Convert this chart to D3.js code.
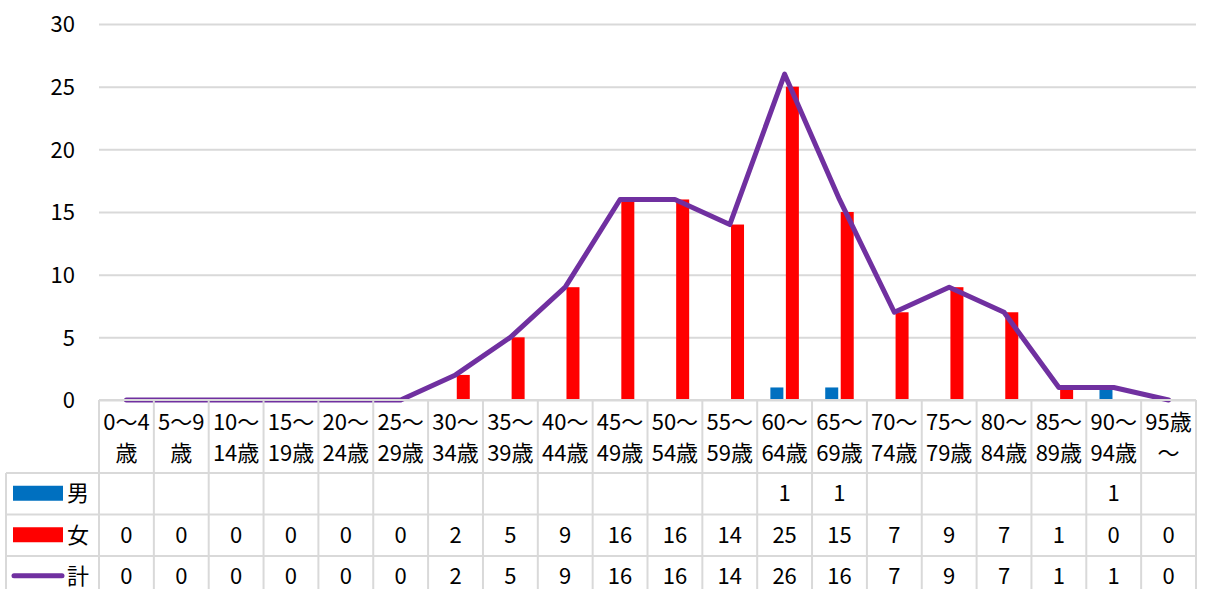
<!DOCTYPE html>
<html>
<head>
<meta charset="utf-8">
<script src="https://cdn.jsdelivr.net/npm/d3@7"></script>
<style>
  body { margin: 0; background: #fff; }
  text { font-family: "Noto Sans CJK JP", "Noto Sans", sans-serif; fill: #000; }
</style>
</head>
<body>
<div class="container"></div>
<script>
// categories (two label lines each)
const categories = ['0〜4歳', '5〜9歳', '10〜14歳', '15〜19歳', '20〜24歳', '25〜29歳', '30〜34歳',
	'35〜39歳', '40〜44歳', '45〜49歳', '50〜54歳', '55〜59歳', '60〜64歳', '65〜69歳',
	'70〜74歳', '75〜79歳', '80〜84歳', '85〜89歳', '90〜94歳', '95歳〜']
const labelLines = [['0〜4', '歳'], ['5〜9', '歳'], ['10〜', '14歳'], ['15〜', '19歳'], ['20〜', '24歳'],
	['25〜', '29歳'], ['30〜', '34歳'], ['35〜', '39歳'], ['40〜', '44歳'], ['45〜', '49歳'],
	['50〜', '54歳'], ['55〜', '59歳'], ['60〜', '64歳'], ['65〜', '69歳'], ['70〜', '74歳'],
	['75〜', '79歳'], ['80〜', '84歳'], ['85〜', '89歳'], ['90〜', '94歳'], ['95歳', '〜']]

const male = [null, null, null, null, null, null, null, null, null, null, null, null, 1, 1, null, null, null, null, 1, null]
const female = [0, 0, 0, 0, 0, 0, 2, 5, 9, 16, 16, 14, 25, 15, 7, 9, 7, 1, 0, 0]
const total = [0, 0, 0, 0, 0, 0, 2, 5, 9, 16, 16, 14, 26, 16, 7, 9, 7, 1, 1, 0]

const yTicks = [0, 5, 10, 15, 20, 25, 30]

const series = [
	{ name: '男', values: male, color: '#0070c0', type: 'bar' },
	{ name: '女', values: female, color: '#ff0000', type: 'bar' },
	{ name: '計', values: total, color: '#7030a0', type: 'line' }
]

const W = 1206, H = 589
const plotLeft = 99, plotRight = 1196, plotTop = 24, zeroY = 400
const tableLeft = 6
const headerBottom = 473
const rowH = 41.5
const gridColor = '#d9d9d9'
const fs = '22px'

let svg = d3.select('.container')
	.append('svg')
	.attr('width', W)
	.attr('height', H)

let x = d3.scaleBand().domain(categories).range([plotLeft, plotRight])
let y = d3.scaleLinear().domain([0, 30]).range([zeroY, plotTop])

// gridlines + y labels
let yAxis = svg.append('g')
	.attr('transform', `translate(${plotLeft},0)`)
	.call(d3.axisLeft(y).tickValues(yTicks).tickSize(-(plotRight - plotLeft)).tickPadding(24))
yAxis.select('.domain').remove()
yAxis.selectAll('.tick line').attr('stroke', gridColor).attr('stroke-width', 2)
yAxis.selectAll('.tick text').style('font-size', fs).attr('dy', '0.35em')

// bars
const barW = 13, barGap = 2.5
series.filter(s => s.type === 'bar').forEach((s, i) => {
	let offset = i === 0 ? -barGap / 2 - barW : barGap / 2
	svg.append('g').selectAll('rect')
		.data(s.values.map((v, k) => ({ v: v, c: categories[k] })).filter(d => d.v))
		.enter().append('rect')
		.attr('x', d => x(d.c) + x.bandwidth() / 2 + offset)
		.attr('y', d => y(d.v))
		.attr('width', barW)
		.attr('height', d => y(0) - y(d.v))
		.attr('fill', s.color)
})

// total line
let line = d3.line()
	.x((d, k) => x(categories[k]) + x.bandwidth() / 2)
	.y(d => y(d))
svg.append('path')
	.datum(total)
	.attr('d', line)
	.attr('fill', 'none')
	.attr('stroke', '#7030a0')
	.attr('stroke-width', 5)
	.attr('stroke-linejoin', 'round')
	.attr('stroke-linecap', 'round')

// data table
let table = svg.append('g')
let tableBottom = headerBottom + rowH * 3

// horizontal lines
table.append('line').attr('x1', plotLeft).attr('x2', plotRight).attr('y1', zeroY).attr('y2', zeroY)
for (let r = 0; r < 3; r++) {
	let yy = headerBottom + r * rowH
	table.append('line').attr('x1', tableLeft).attr('x2', plotRight).attr('y1', yy).attr('y2', yy)
}
// vertical lines
categories.forEach(c => {
	table.append('line').attr('x1', x(c)).attr('x2', x(c)).attr('y1', zeroY).attr('y2', tableBottom)
})
table.append('line').attr('x1', plotRight).attr('x2', plotRight).attr('y1', zeroY).attr('y2', tableBottom)
table.append('line').attr('x1', tableLeft).attr('x2', tableLeft).attr('y1', headerBottom).attr('y2', tableBottom)
table.selectAll('line').attr('stroke', gridColor).attr('stroke-width', 2)

// category labels
categories.forEach((c, k) => {
	let t = table.append('text')
		.attr('x', x(c) + x.bandwidth() / 2)
		.attr('text-anchor', 'middle')
		.style('font-size', fs)
	labelLines[k].forEach((l, j) => {
		t.append('tspan')
			.attr('x', x(c) + x.bandwidth() / 2)
			.attr('y', 422 + j * 31)
			.attr('dy', '0.35em')
			.text(l)
	})
})

// rows
series.forEach((s, r) => {
	let cy = headerBottom + r * rowH + rowH / 2
	// legend key
	if (s.type === 'bar') {
		table.append('rect').attr('x', 13).attr('y', cy - 8).attr('width', 50).attr('height', 15).attr('fill', s.color)
	} else {
		table.append('line').attr('x1', 14).attr('x2', 62).attr('y1', cy - 1).attr('y2', cy - 1)
			.attr('stroke', s.color).attr('stroke-width', 5).attr('stroke-linecap', 'round')
	}
	table.append('text').attr('x', 67).attr('y', cy).attr('dy', '0.35em')
		.style('font-size', fs).text(s.name)

	s.values.forEach((v, k) => {
		if (v === null) return
		table.append('text')
			.attr('x', x(categories[k]) + x.bandwidth() / 2)
			.attr('y', cy)
			.attr('dy', '0.35em')
			.attr('text-anchor', 'middle')
			.style('font-size', fs)
			.text(v)
	})
})
</script>
</body>
</html>
